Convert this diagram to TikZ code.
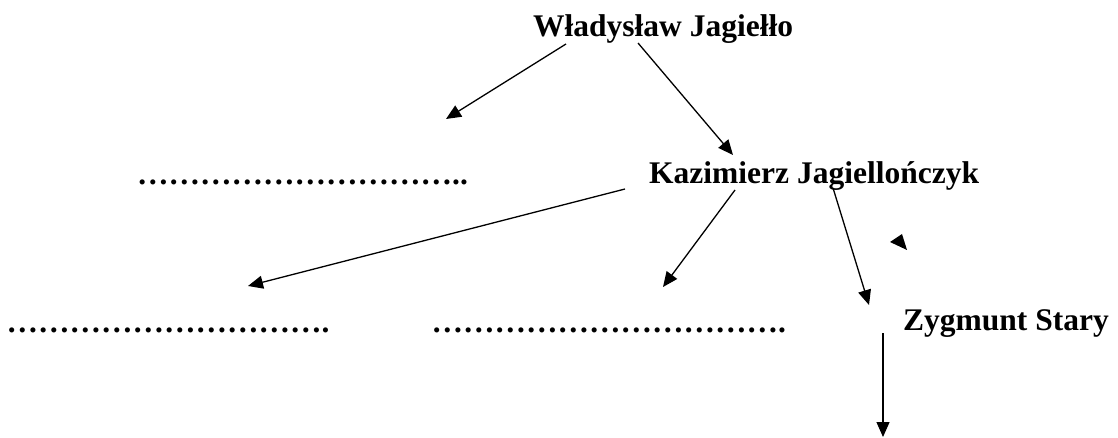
\documentclass[tikz,border=0pt]{standalone}
\usepackage{fontspec}
\setmainfont{Liberation Serif}
\usetikzlibrary{arrows.meta}
\newcommand\dd{…}
\begin{document}
\begin{tikzpicture}[x=1pt,y=-1pt,
  lbl/.style={anchor=base west,inner sep=0pt,font=\fontsize{31.5}{36}\selectfont\bfseries},
  arr/.style={line width=1.3pt,-{Triangle[length=15pt,width=13pt]}}]
\useasboundingbox (0,0) rectangle (1118,438);
\node[lbl] (wj) at (533,37) {Władysław Jagiełło};
\node[lbl] (d1) at (137,185) {\dd\dd\dd\dd\dd\dd\dd\dd\dd\dd..};
\node[lbl] (kj) at (649,184) {Kazimierz Jagiellończyk};
\node[lbl] (d2) at (6.5,332) {\dd\dd\dd\dd\dd\dd\dd\dd\dd\dd.};
\node[lbl] (d3) at (431.5,332) {\dd\dd\dd\dd\dd\dd\dd\dd\dd\dd\dd.};
\node[lbl] (zs) at (903,330) {Zygmunt Stary};
% connector end points
\coordinate (a1s) at (566,44);  \coordinate (a1e) at (446,119);
\coordinate (a2s) at (638,43);  \coordinate (a2e) at (733,155);
\coordinate (a3s) at (625,189); \coordinate (a3e) at (248,286);
\coordinate (a4s) at (735,190); \coordinate (a4e) at (663,287);
\coordinate (a5s) at (833,188); \coordinate (a5e) at (869,305);
\coordinate (a6s) at (883,333); \coordinate (a6e) at (883,437);
\draw[arr] (a1s) -- (a1e);
\draw[arr] (a2s) -- (a2e);
\draw[arr] (a3s) -- (a3e);
\draw[arr] (a4s) -- (a4e);
\draw[arr] (a5s) -- (a5e);
\draw[arr] (a6s) -- (a6e);
\fill (890,242) -- (902,234) -- (907,250) -- cycle;
\end{tikzpicture}
\end{document}
